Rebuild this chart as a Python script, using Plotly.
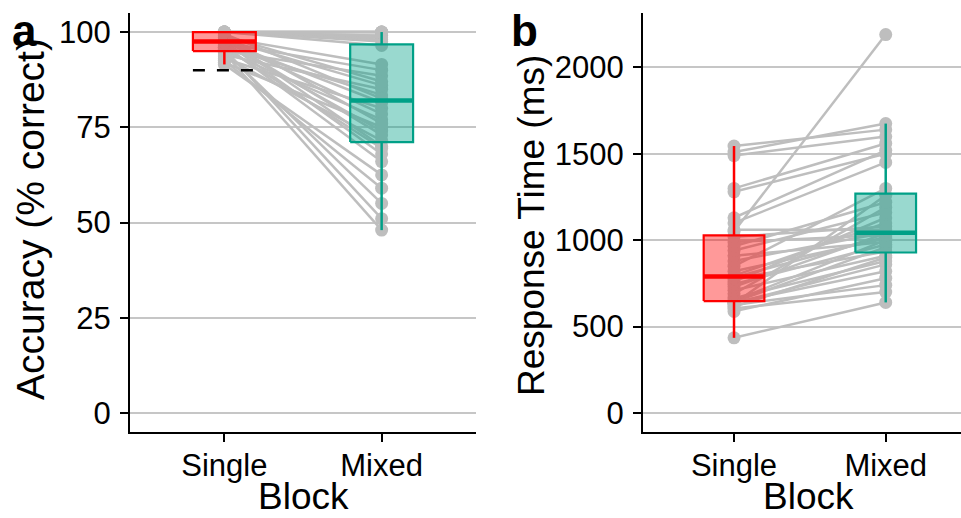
import numpy as np
import plotly.graph_objects as go

# ---------------- data ----------------
blocks = ["Single", "Mixed"]

acc_single = [91.5, 92, 92.5, 93, 93.5, 94, 94.5, 95, 95, 95, 95.5, 96, 96, 96.5,
              97, 97, 97.5, 97.5, 97.5, 98, 98, 98.5, 98.5, 99, 99, 99.5,
              100, 100, 100, 100, 100, 100, 100, 100, 100, 100]
acc_mixed = [62.5, 75, 59, 80, 71.5, 85, 48, 55, 77, 88.5, 51, 69.5, 83.5, 66,
             74, 90, 68, 81.5, 78.5, 73, 86, 70, 91.5, 76, 87, 82.5,
             96.5, 97.5, 98, 98.5, 99, 99, 100, 100, 100, 100]

rt_single = [435, 588, 605, 615, 625, 632, 636, 640, 642, 650, 665, 690, 710, 730,
             745, 760, 775, 785, 795, 820, 850, 880, 910, 940, 965, 990, 1020,
             1050, 1060, 1100, 1130, 1280, 1300, 1490, 1510, 1545]
rt_mixed = [640, 780, 700, 900, 740, 1260, 860, 820, 960, 1000, 880, 1190, 910, 1040,
            975, 1130, 935, 1020, 1100, 1010, 1300, 1045, 990, 1160, 1220, 1030, 1080,
            2190, 1060, 1450, 1520, 1500, 1560, 1600, 1675, 1640]

acc_criterion = 90
acc_ticks = [0, 25, 50, 75, 100]
rt_ticks = [0, 500, 1000, 1500, 2000]
acc_title = "Accuracy (% correct)"
rt_title = "Response Time (ms)"
x_title = "Block"
panel_labels = ["a", "b"]

# ---------------- style ----------------
W, H = 961, 518
FONT = "Liberation Sans, Arial, sans-serif"
GRAY = "#BEBEBE"
GRID = "#C6C6C6"
RED, RED_FILL = "#FF0000", "rgba(255,0,0,0.4)"
TEAL, TEAL_FILL = "#00A087", "rgba(0,160,135,0.4)"
BOXW = 0.4
TICKFS = 31
TITLEFS = 37


def px_x(p):
    return p / W


def px_y(p):
    return 1 - p / H


fig = go.Figure()


def add_panel(single, mixed, xa, ya, criterion=None):
    xs, ys = [], []
    for s, m in zip(single, mixed):
        xs += [1, 2, None]
        ys += [s, m, None]
    fig.add_trace(go.Scatter(x=xs, y=ys, mode="lines+markers",
                             line=dict(color=GRAY, width=2.5),
                             marker=dict(color=GRAY, size=13),
                             xaxis=xa, yaxis=ya, showlegend=False, hoverinfo="skip"))
    for pos, vals, col, fill in [(1, single, RED, RED_FILL), (2, mixed, TEAL, TEAL_FILL)]:
        v = np.array(vals, float)
        q1, med, q3 = np.percentile(v, [25, 50, 75])
        iqr = q3 - q1
        lo = v[v >= q1 - 1.5 * iqr].min()
        hi = v[v <= q3 + 1.5 * iqr].max()
        l, r = pos - BOXW / 2, pos + BOXW / 2
        fig.add_trace(go.Scatter(x=[l, r, r, l, l], y=[q1, q1, q3, q3, q1],
                                 mode="lines", fill="toself", fillcolor=fill,
                                 line=dict(color=col, width=2.2),
                                 xaxis=xa, yaxis=ya, showlegend=False, hoverinfo="skip"))
        fig.add_trace(go.Scatter(x=[pos, pos, None, pos, pos], y=[q3, hi, None, q1, lo],
                                 mode="lines", line=dict(color=col, width=2.5),
                                 xaxis=xa, yaxis=ya, showlegend=False, hoverinfo="skip"))
        fig.add_trace(go.Scatter(x=[l, r], y=[med, med], mode="lines",
                                 line=dict(color=col, width=4.5),
                                 xaxis=xa, yaxis=ya, showlegend=False, hoverinfo="skip"))
    if criterion is not None:
        fig.add_trace(go.Scatter(x=[1 - BOXW / 2, 1 + BOXW / 2], y=[criterion, criterion],
                                 mode="lines", line=dict(color="black", width=2.5, dash="12px,12px"),
                                 xaxis=xa, yaxis=ya, showlegend=False, hoverinfo="skip"))


add_panel(acc_single, acc_mixed, "x", "y", criterion=acc_criterion)
add_panel(rt_single, rt_mixed, "x2", "y2")

ydom = [px_y(432), px_y(13)]
xcommon = dict(tickvals=[1, 2], ticktext=blocks, showline=True, linecolor="black",
               linewidth=2, ticks="outside", ticklen=8, tickwidth=2, tickcolor="black",
               showgrid=False, zeroline=False, tickfont=dict(size=TICKFS, color="black", family=FONT),
               ticklabelstandoff=-3, automargin=False, fixedrange=True)
ycommon = dict(showline=True, linecolor="black", linewidth=2, ticks="outside", ticklen=8,
               tickwidth=2, tickcolor="black", showgrid=True, gridcolor=GRID, gridwidth=2,
               zeroline=False, tickfont=dict(size=TICKFS, color="black", family=FONT),
               ticklabelstandoff=3, automargin=False, domain=ydom, fixedrange=True)

fig.update_layout(
    width=W, height=H,
    margin=dict(l=0, r=0, t=0, b=0),
    paper_bgcolor="white", plot_bgcolor="white",
    font=dict(family=FONT, color="black"),
    xaxis=dict(xcommon, domain=[px_x(130), px_x(476)], range=[0.4, 2.6], anchor="y"),
    xaxis2=dict(xcommon, domain=[px_x(643), 1.0], range=[0.4, 0.4 + (961 - 643) / 151.7], anchor="y2"),
    yaxis=dict(ycommon, range=[-5, 105], tickvals=acc_ticks, anchor="x"),
    yaxis2=dict(ycommon, range=[-110, 2315], tickvals=rt_ticks, anchor="x2"),
    showlegend=False,
)

ann = []
for cx in (303, 808):
    ann.append(dict(text=x_title, x=px_x(cx), y=0, xref="paper", yref="paper",
                    showarrow=False, font=dict(size=TITLEFS, family=FONT, color="black"),
                    xanchor="center", yanchor="bottom", borderpad=0))
ann.append(dict(text=acc_title, x=px_x(31), y=px_y(219), xref="paper", yref="paper",
                showarrow=False, textangle=-90, font=dict(size=39, family=FONT, color="black"),
                xanchor="center", yanchor="middle"))
ann.append(dict(text=rt_title, x=px_x(531), y=px_y(226), xref="paper", yref="paper",
                showarrow=False, textangle=-90, font=dict(size=TITLEFS, family=FONT, color="black"),
                xanchor="center", yanchor="middle"))
ann.append(dict(text="<b>%s</b>" % panel_labels[0], x=px_x(10), y=px_y(31), xref="paper", yref="paper",
                showarrow=False, font=dict(size=44, family=FONT, color="black"),
                xanchor="left", yanchor="middle"))
ann.append(dict(text="<b>%s</b>" % panel_labels[1], x=px_x(509), y=px_y(31), xref="paper", yref="paper",
                showarrow=False, font=dict(size=44, family=FONT, color="black"),
                xanchor="left", yanchor="middle"))
fig.update_layout(annotations=ann)

fig.write_html("out.html", config={"displayModeBar": False},
               post_script="document.body.style.margin='0px';")
